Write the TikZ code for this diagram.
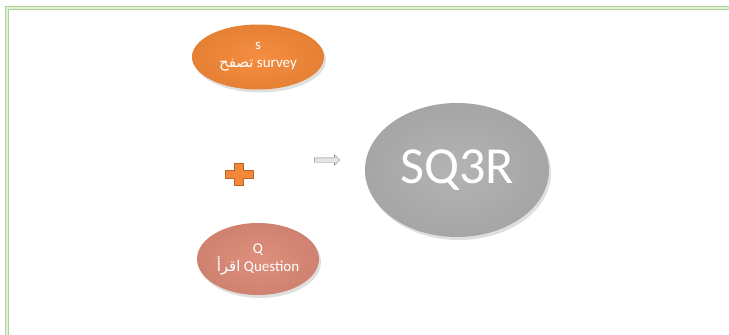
\documentclass[tikz,border=0pt]{standalone}
\usepackage{fontspec}
\setmainfont{Carlito}
\newfontfamily\arabicfont[Script=Arabic]{DejaVu Sans}
\TeXXeTstate=1
\usetikzlibrary{shapes.geometric,shapes.arrows,shadows}

\definecolor{surveyorange}{RGB}{244,136,56}
\definecolor{questionpink}{RGB}{220,138,118}
\definecolor{sqgray}{RGB}{176,176,176}
\definecolor{framegreen}{RGB}{172,212,146}

\tikzset{
  stage/.style={ellipse,text=white,align=center,inner sep=0pt,
    drop shadow={opacity=0.25,shadow xshift=2pt,shadow yshift=-3pt}},
  small/.style={font=\fontsize{15}{18}\selectfont},
}

\begin{document}
\begin{tikzpicture}[x=1pt,y=-1pt]
  \useasboundingbox (0,0) rectangle (729,335);
  %frame
  \draw[framegreen,line width=1.2pt,double=framegreen!35,double distance=1.2pt] (7,335)--(7,8)--(729,8);

  \node[stage,small,minimum width=132pt,minimum height=65pt,
        inner color=surveyorange!95!white,outer color=surveyorange!94!black] (survey) at (258,57)
        {s\\{\arabicfont\beginR تصفح\endR} survey};
  \node[stage,small,minimum width=122pt,minimum height=72pt,
        inner color=questionpink!95!white,outer color=questionpink!94!black] (question) at (258,259)
        {Q\\{\arabicfont\beginR اقرأ\endR} Question};
  \node[stage,font=\fontsize{52}{60}\selectfont,minimum width=184pt,minimum height=134pt,
        inner color=sqgray!95!white,outer color=sqgray!94!black] (sqr) at (457,170) {SQ3R};

  \filldraw[fill=surveyorange,draw=surveyorange!75!black,line width=0.5pt]
    (234,163)--(243,163)--(243,170)--(253,170)--(253,178)--(243,178)--(243,185)--(234,185)
    --(234,178)--(225,178)--(225,170)--(234,170)--cycle;
  \node[single arrow,draw=gray,fill=gray!20,minimum height=25pt,inner sep=2pt,
        single arrow head extend=3pt] (arrow) at (326,160) {};
\end{tikzpicture}
\end{document}
